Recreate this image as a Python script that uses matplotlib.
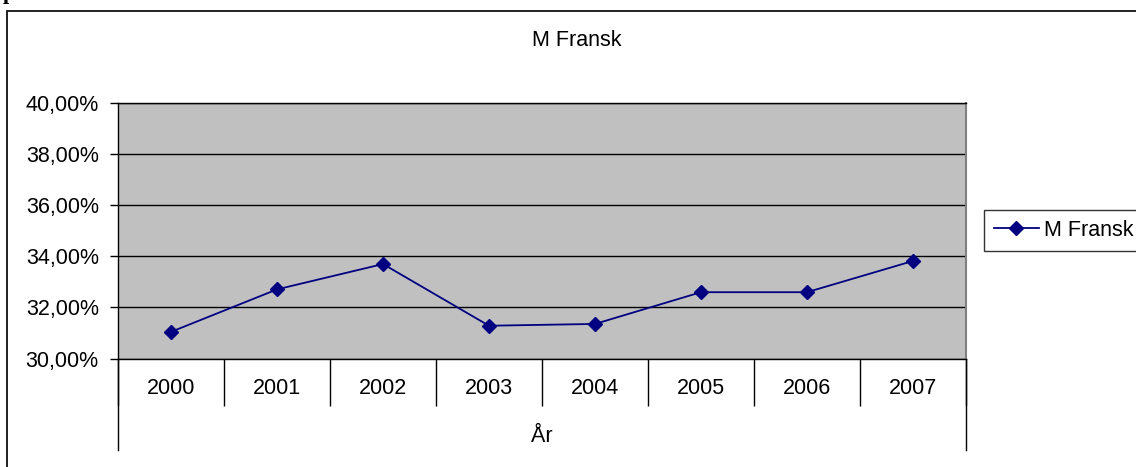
import numpy as np
import matplotlib
matplotlib.use("Agg")
import matplotlib.pyplot as plt
from matplotlib.patches import Rectangle

years = ["2000", "2001", "2002", "2003", "2004", "2005", "2006", "2007"]
share = [31.04, 32.70, 33.69, 31.28, 31.35, 32.59, 32.59, 33.81]
yticks = [30, 32, 34, 36, 38, 40]
title = "M Fransk"
xtitle = "År"

plt.rcParams["font.family"] = ["Liberation Sans", "DejaVu Sans"]
W, H = 1136, 467
fig = plt.figure(figsize=(W / 100, H / 100), dpi=100)
ax = fig.add_axes([118 / W, 108.5 / H, 848 / W, 256 / H])

x = np.arange(len(years)) + 0.5
ax.plot(x, share, color="#000080", lw=1.3, marker="D", ms=6.8,
        label=title, zorder=3)

ax.set_facecolor("#c0c0c0")
ax.set_xlim(0, len(years))
ax.set_ylim(30, 40)
ax.set_yticks(yticks)
ax.set_yticklabels([f"{v:.2f}%".replace(".", ",") for v in yticks])
ax.yaxis.grid(True, color="black", lw=1.0)
ax.set_axisbelow(True)
ax.tick_params(axis="y", direction="out", length=5.8, width=1.0,
               pad=8, labelsize=15.5, color="black")

# category boundaries as long outward ticks
ax.set_xticks(np.arange(len(years) + 1))
ax.set_xticklabels([])
ax.tick_params(axis="x", direction="out", length=33.5, width=1.0, color="black")

trans = ax.get_xaxis_transform()
for edge in [0, len(years)]:
    ax.plot([edge, edge], [0, -91.5 / 256], color="black", lw=1.0,
            transform=trans, clip_on=False)
for xi, lab in zip(x, years):
    ax.text(xi, -30.5 / 256, lab, transform=trans, ha="center", va="center",
            fontsize=15.5)
ax.text(len(years) / 2, -78.5 / 256, xtitle, transform=trans, ha="center",
        va="center", fontsize=15.5)

for s in ["left", "bottom", "top"]:
    ax.spines[s].set_color("black")
    ax.spines[s].set_linewidth(1.0)
ax.spines["right"].set_color("#808080")
ax.spines["right"].set_linewidth(1.5)

fig.text(577 / W, 1 - 40 / H, title, ha="center", va="center", fontsize=15.5)

leg = fig.legend(loc="center left", bbox_to_anchor=(984 / W, 1 - 230.5 / H),
                 fontsize=15.5, frameon=True, fancybox=False, shadow=False,
                 borderpad=0.45, handlelength=2.1, handletextpad=0.25,
                 borderaxespad=0)
leg.get_frame().set_edgecolor("black")
leg.get_frame().set_linewidth(1.0)

# outer chart frame
fig.patches.append(Rectangle((7 / W, -0.1), 1.2, (H - 11) / H + 0.1,
                             transform=fig.transFigure, fill=False,
                             ec="#202020", lw=1.4))

fig.text(3 / W, 1 + 1 / H, "p", ha="left", va="baseline", fontsize=16,
         fontweight="bold", family="Liberation Serif")

fig.savefig("out.png", dpi=100)
